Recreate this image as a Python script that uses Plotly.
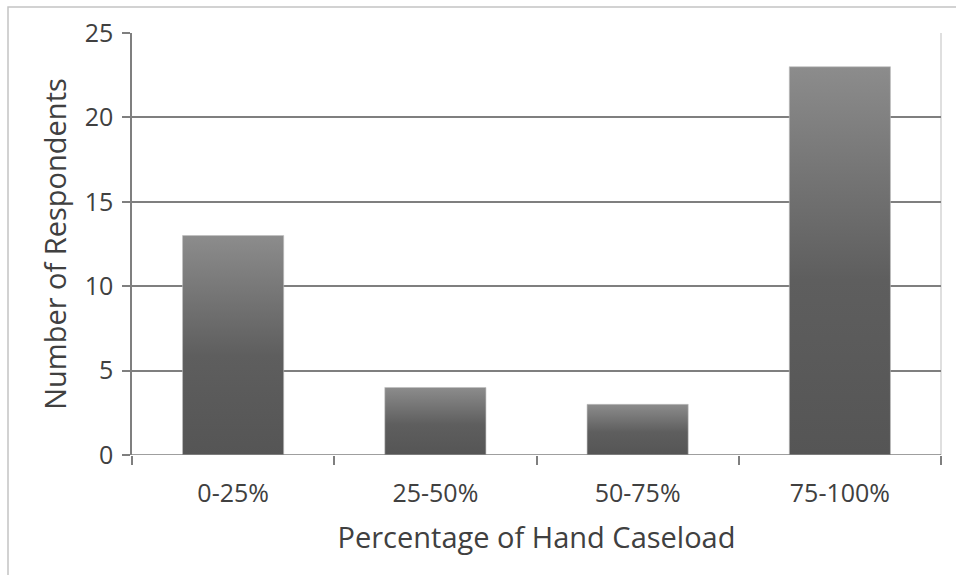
import plotly.graph_objects as go

# Survey results: share of caseload that is hand therapy
categories = ["0-25%", "25-50%", "50-75%", "75-100%"]
respondents = [13, 4, 3, 23]
y_ticks = [0, 5, 10, 15, 20, 25]

BAR_WIDTH = 0.5
TEXT = "#404040"
GRID = "#7f7f7f"
FONT = "Open Sans, Noto Sans, sans-serif"

fig = go.Figure()

# Each bar is a filled polygon so it can carry a vertical gradient
for i, v in enumerate(respondents):
    x0, x1 = i - BAR_WIDTH / 2, i + BAR_WIDTH / 2
    fig.add_trace(go.Scatter(
        x=[x0, x0, x1, x1, x0],
        y=[0, v, v, 0, 0],
        mode="lines",
        line=dict(width=0.6, color="#bdbdbd"),
        fill="toself",
        fillgradient=dict(
            type="vertical",
            colorscale=[[0, "#555555"], [0.45, "#5e5e5e"], [1, "#8c8c8c"]],
        ),
        hoverinfo="skip",
        showlegend=False,
    ))

boundaries = [i - 0.5 for i in range(len(categories) + 1)]

fig.update_layout(
    width=956, height=575,
    margin=dict(l=132, r=15, t=33, b=120),
    paper_bgcolor="white", plot_bgcolor="white",
    font=dict(family=FONT, color=TEXT),
    xaxis=dict(
        range=[-0.5, len(categories) - 0.5],
        tickvals=list(range(len(categories))),
        ticktext=categories,
        ticks="", showgrid=False, zeroline=False,
        showline=False,
        tickfont=dict(size=25, color=TEXT),
        ticklabelstandoff=21,
        minor=dict(tickvals=boundaries, ticks="outside", ticklen=9,
                   tickwidth=1.5, tickcolor=GRID, showgrid=False),
        title=dict(text="Percentage of Hand Caseload",
                   font=dict(size=29, color=TEXT), standoff=19),
        fixedrange=True,
    ),
    yaxis=dict(
        range=[0, 25],
        tickvals=y_ticks,
        ticks="outside", ticklen=8, tickwidth=1.5, tickcolor=GRID,
        showgrid=True, gridcolor=GRID, gridwidth=1.5,
        showline=True, linecolor=GRID, linewidth=1.5,
        zeroline=False,
        tickfont=dict(size=25, color=TEXT),
        ticklabelstandoff=4,
        title=dict(text="Number of Respondents",
                   font=dict(size=29, color=TEXT), standoff=10),
        fixedrange=True,
    ),
    shapes=[
        # outer frame
        dict(type="rect", xref="paper", yref="paper",
             x0=(8 - 132) / 809, x1=1.04, y0=-0.3, y1=(455 - 7) / 422,
             line=dict(color="#c4c4c4", width=1.5), layer="below"),
        # light right edge of plot area
        dict(type="line", xref="paper", yref="paper",
             x0=1, x1=1, y0=0, y1=1,
             line=dict(color="#d4d4d4", width=1.5), layer="below"),
        # baseline
        dict(type="line", xref="paper", yref="y",
             x0=-10 / 809, x1=1, y0=0, y1=0,
             line=dict(color=GRID, width=1.5), layer="above"),
    ],
)

fig.write_html("out.html")
